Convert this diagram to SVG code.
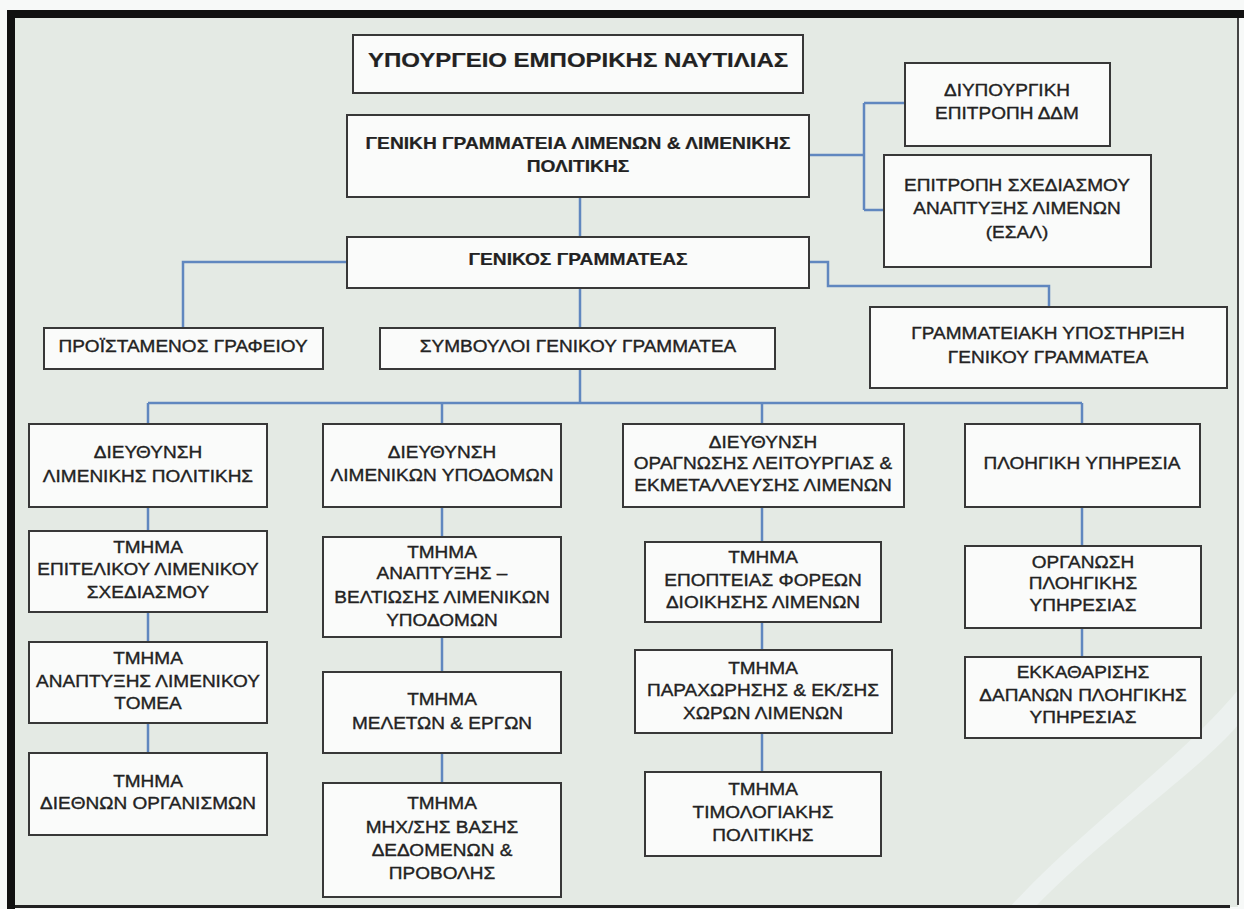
<svg xmlns="http://www.w3.org/2000/svg" width="1244" height="909" viewBox="0 0 1244 909">
<style>
.box{fill:#fafbfa;stroke:#383838;stroke-width:2}
.t{font-family:"Liberation Sans",Arial,sans-serif;font-size:17px;fill:#222;stroke:#222;stroke-width:0.35;text-anchor:middle}
.b{font-weight:bold;font-size:16px;stroke-width:0.2}
.h{font-size:20px}
.c{fill:none;stroke:#6087bf;stroke-width:2.5}
</style>
<rect x="0" y="0" width="1244" height="909" fill="#f7f9f8"/>
<rect x="15" y="18" width="1223" height="889" fill="#e4eae4"/>
<path d="M1238,690 C1180,760 1080,830 1010,907 L1035,907 C1105,835 1200,770 1238,725 Z" fill="#ecf1ef"/>
<rect x="7" y="10" width="1237" height="8" fill="#111"/>
<rect x="7" y="10" width="8" height="899" fill="#111"/>
<rect x="15" y="905" width="1215" height="3" fill="#222"/>
<rect x="1237" y="18" width="2" height="887" fill="#444"/>

<g id="connectors">
<path class="c" d="M580,197 V237"/>
<path class="c" d="M809,155 H864 M864,103 V210 M864,103 H905 M864,210 H884"/>
<path class="c" d="M347,262 H183 V328"/>
<path class="c" d="M809,262 H828 V286 H1049 V307"/>
<path class="c" d="M580,288 V328 M580,369 V403"/>
<path class="c" d="M148,403 H1082 M148,403 V424 M442,403 V424 M762,403 V424 M1082,403 V424"/>
<path class="c" d="M148,507 V531 M148,612 V642 M148,723 V753"/>
<path class="c" d="M442,507 V537 M442,637 V672 M442,753 V783"/>
<path class="c" d="M762,507 V542 M762,622 V650 M762,733 V772"/>
<path class="c" d="M1082,507 V546 M1082,628 V657"/>
</g>

<g id="n_ministry">
<rect class="box" x="353" y="35" width="450" height="58"/>
<text class="t b h" transform="translate(578,0) scale(1.2,1)" y="67">ΥΠΟΥΡΓΕΙΟ ΕΜΠΟΡΙΚΗΣ ΝΑΥΤΙΛΙΑΣ</text>
</g>
<g id="n_gen_secretariat">
<rect class="box" x="347" y="115" width="462" height="82"/>
<text class="t b" transform="translate(578,0) scale(1.2,1)" y="149">ΓΕΝΙΚΗ ΓΡΑΜΜΑΤΕΙΑ ΛΙΜΕΝΩΝ &amp; ΛΙΜΕΝΙΚΗΣ</text>
<text class="t b" transform="translate(578,0) scale(1.2,1)" y="172">ΠΟΛΙΤΙΚΗΣ</text>
</g>
<g id="n_interministerial">
<rect class="box" x="905" y="63" width="205" height="83"/>
<text class="t" transform="translate(1007,0) scale(1.12,1)" y="96">ΔΙΥΠΟΥΡΓΙΚΗ</text>
<text class="t" transform="translate(1007,0) scale(1.12,1)" y="119">ΕΠΙΤΡΟΠΗ ΔΔΜ</text>
</g>
<g id="n_esal">
<rect class="box" x="884" y="155" width="267" height="112"/>
<text class="t" transform="translate(1017,0) scale(1.12,1)" y="191">ΕΠΙΤΡΟΠΗ ΣΧΕΔΙΑΣΜΟΥ</text>
<text class="t" transform="translate(1017,0) scale(1.12,1)" y="214">ΑΝΑΠΤΥΞΗΣ ΛΙΜΕΝΩΝ</text>
<text class="t" transform="translate(1017,0) scale(1.12,1)" y="238">(ΕΣΑΛ)</text>
</g>
<g id="n_gen_secretary">
<rect class="box" x="347" y="237" width="462" height="51"/>
<text class="t b" transform="translate(578,0) scale(1.2,1)" y="265">ΓΕΝΙΚΟΣ ΓΡΑΜΜΑΤΕΑΣ</text>
</g>
<g id="n_office_head">
<rect class="box" x="44" y="328" width="279" height="41"/>
<text class="t" transform="translate(183,0) scale(1.12,1)" y="352">ΠΡΟΪΣΤΑΜΕΝΟΣ ΓΡΑΦΕΙΟΥ</text>
</g>
<g id="n_advisors">
<rect class="box" x="380" y="328" width="395" height="41"/>
<text class="t" transform="translate(578,0) scale(1.12,1)" y="352">ΣΥΜΒΟΥΛΟΙ ΓΕΝΙΚΟΥ ΓΡΑΜΜΑΤΕΑ</text>
</g>
<g id="n_secretarial">
<rect class="box" x="870" y="307" width="357" height="81"/>
<text class="t" transform="translate(1048,0) scale(1.12,1)" y="339">ΓΡΑΜΜΑΤΕΙΑΚΗ ΥΠΟΣΤΗΡΙΞΗ</text>
<text class="t" transform="translate(1048,0) scale(1.12,1)" y="363">ΓΕΝΙΚΟΥ ΓΡΑΜΜΑΤΕΑ</text>
</g>

<g id="n_dir_policy">
<rect class="box" x="29" y="424" width="238" height="83"/>
<text class="t" transform="translate(148,0) scale(1.12,1)" y="458">ΔΙΕΥΘΥΝΣΗ</text>
<text class="t" transform="translate(148,0) scale(1.12,1)" y="482">ΛΙΜΕΝΙΚΗΣ ΠΟΛΙΤΙΚΗΣ</text>
</g>
<g id="n_dir_infra">
<rect class="box" x="323" y="424" width="238" height="83"/>
<text class="t" transform="translate(442,0) scale(1.12,1)" y="458">ΔΙΕΥΘΥΝΣΗ</text>
<text class="t" transform="translate(442,0) scale(1.12,1)" y="481">ΛΙΜΕΝΙΚΩΝ ΥΠΟΔΟΜΩΝ</text>
</g>
<g id="n_dir_operation">
<rect class="box" x="623" y="424" width="281" height="83"/>
<text class="t" transform="translate(763,0) scale(1.12,1)" y="448">ΔΙΕΥΘΥΝΣΗ</text>
<text class="t" transform="translate(763,0) scale(1.12,1)" y="469">ΟΡΑΓΝΩΣΗΣ ΛΕΙΤΟΥΡΓΙΑΣ &amp;</text>
<text class="t" transform="translate(763,0) scale(1.12,1)" y="491">ΕΚΜΕΤΑΛΛΕΥΣΗΣ ΛΙΜΕΝΩΝ</text>
</g>
<g id="n_pilotage">
<rect class="box" x="965" y="424" width="235" height="83"/>
<text class="t" transform="translate(1082,0) scale(1.12,1)" y="469">ΠΛΟΗΓΙΚΗ ΥΠΗΡΕΣΙΑ</text>
</g>

<g id="n_c1_1">
<rect class="box" x="29" y="531" width="238" height="81"/>
<text class="t" transform="translate(148,0) scale(1.12,1)" y="553">ΤΜΗΜΑ</text>
<text class="t" transform="translate(148,0) scale(1.12,1)" y="575">ΕΠΙΤΕΛΙΚΟΥ ΛΙΜΕΝΙΚΟΥ</text>
<text class="t" transform="translate(148,0) scale(1.12,1)" y="598">ΣΧΕΔΙΑΣΜΟΥ</text>
</g>
<g id="n_c1_2">
<rect class="box" x="29" y="642" width="238" height="81"/>
<text class="t" transform="translate(148,0) scale(1.12,1)" y="664">ΤΜΗΜΑ</text>
<text class="t" transform="translate(148,0) scale(1.12,1)" y="687">ΑΝΑΠΤΥΞΗΣ ΛΙΜΕΝΙΚΟΥ</text>
<text class="t" transform="translate(148,0) scale(1.12,1)" y="709">ΤΟΜΕΑ</text>
</g>
<g id="n_c1_3">
<rect class="box" x="29" y="753" width="238" height="82"/>
<text class="t" transform="translate(148,0) scale(1.12,1)" y="787">ΤΜΗΜΑ</text>
<text class="t" transform="translate(148,0) scale(1.12,1)" y="809">ΔΙΕΘΝΩΝ ΟΡΓΑΝΙΣΜΩΝ</text>
</g>

<g id="n_c2_1">
<rect class="box" x="323" y="537" width="238" height="100"/>
<text class="t" transform="translate(442,0) scale(1.12,1)" y="558">ΤΜΗΜΑ</text>
<text class="t" transform="translate(442,0) scale(1.12,1)" y="579">ΑΝΑΠΤΥΞΗΣ –</text>
<text class="t" transform="translate(442,0) scale(1.12,1)" y="603">ΒΕΛΤΙΩΣΗΣ ΛΙΜΕΝΙΚΩΝ</text>
<text class="t" transform="translate(442,0) scale(1.12,1)" y="626">ΥΠΟΔΟΜΩΝ</text>
</g>
<g id="n_c2_2">
<rect class="box" x="323" y="672" width="238" height="81"/>
<text class="t" transform="translate(442,0) scale(1.12,1)" y="705">ΤΜΗΜΑ</text>
<text class="t" transform="translate(442,0) scale(1.12,1)" y="729">ΜΕΛΕΤΩΝ &amp; ΕΡΓΩΝ</text>
</g>
<g id="n_c2_3">
<rect class="box" x="323" y="783" width="238" height="114"/>
<text class="t" transform="translate(442,0) scale(1.12,1)" y="809">ΤΜΗΜΑ</text>
<text class="t" transform="translate(442,0) scale(1.12,1)" y="833">ΜΗΧ/ΣΗΣ ΒΑΣΗΣ</text>
<text class="t" transform="translate(442,0) scale(1.12,1)" y="856">ΔΕΔΟΜΕΝΩΝ &amp;</text>
<text class="t" transform="translate(442,0) scale(1.12,1)" y="879">ΠΡΟΒΟΛΗΣ</text>
</g>

<g id="n_c3_1">
<rect class="box" x="645" y="542" width="236" height="80"/>
<text class="t" transform="translate(763,0) scale(1.12,1)" y="563">ΤΜΗΜΑ</text>
<text class="t" transform="translate(763,0) scale(1.12,1)" y="586">ΕΠΟΠΤΕΙΑΣ ΦΟΡΕΩΝ</text>
<text class="t" transform="translate(763,0) scale(1.12,1)" y="608">ΔΙΟΙΚΗΣΗΣ ΛΙΜΕΝΩΝ</text>
</g>
<g id="n_c3_2">
<rect class="box" x="635" y="650" width="257" height="83"/>
<text class="t" transform="translate(763,0) scale(1.12,1)" y="674">ΤΜΗΜΑ</text>
<text class="t" transform="translate(763,0) scale(1.12,1)" y="696">ΠΑΡΑΧΩΡΗΣΗΣ &amp; ΕΚ/ΣΗΣ</text>
<text class="t" transform="translate(763,0) scale(1.12,1)" y="719">ΧΩΡΩΝ ΛΙΜΕΝΩΝ</text>
</g>
<g id="n_c3_3">
<rect class="box" x="645" y="772" width="236" height="84"/>
<text class="t" transform="translate(763,0) scale(1.12,1)" y="795">ΤΜΗΜΑ</text>
<text class="t" transform="translate(763,0) scale(1.12,1)" y="818">ΤΙΜΟΛΟΓΙΑΚΗΣ</text>
<text class="t" transform="translate(763,0) scale(1.12,1)" y="841">ΠΟΛΙΤΙΚΗΣ</text>
</g>

<g id="n_c4_1">
<rect class="box" x="965" y="546" width="236" height="82"/>
<text class="t" transform="translate(1083,0) scale(1.12,1)" y="568">ΟΡΓΑΝΩΣΗ</text>
<text class="t" transform="translate(1083,0) scale(1.12,1)" y="589">ΠΛΟΗΓΙΚΗΣ</text>
<text class="t" transform="translate(1083,0) scale(1.12,1)" y="611">ΥΠΗΡΕΣΙΑΣ</text>
</g>
<g id="n_c4_2">
<rect class="box" x="965" y="657" width="236" height="81"/>
<text class="t" transform="translate(1083,0) scale(1.12,1)" y="678">ΕΚΚΑΘΑΡΙΣΗΣ</text>
<text class="t" transform="translate(1083,0) scale(1.12,1)" y="701">ΔΑΠΑΝΩΝ ΠΛΟΗΓΙΚΗΣ</text>
<text class="t" transform="translate(1083,0) scale(1.12,1)" y="723">ΥΠΗΡΕΣΙΑΣ</text>
</g>
</svg>
